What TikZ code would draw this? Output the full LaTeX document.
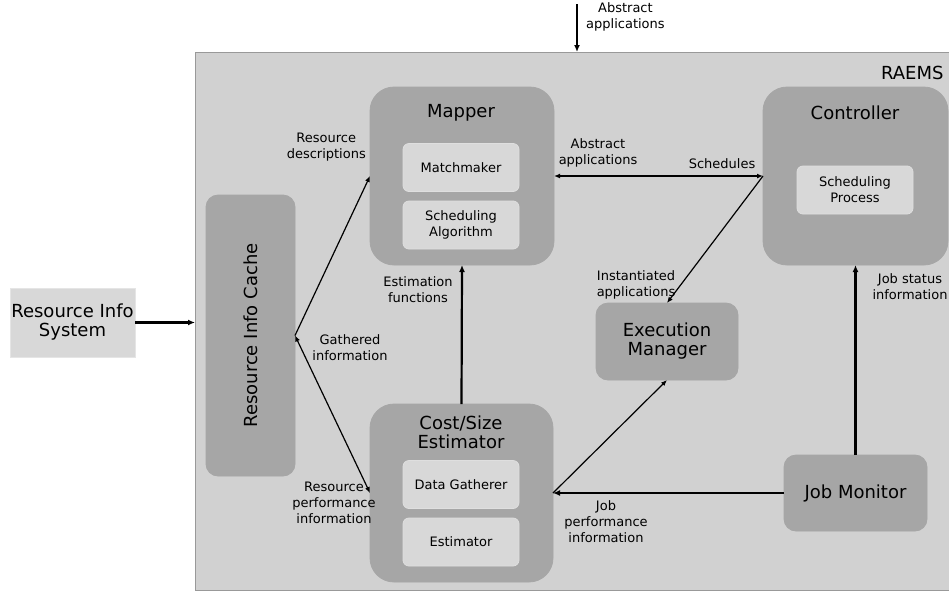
\documentclass[tikz,border=0pt]{standalone}
\usepackage{fontspec}
\setmainfont{DejaVu Sans}
\usetikzlibrary{arrows.meta}

\definecolor{framegray}{RGB}{209,209,209}
\definecolor{unitgray}{RGB}{166,166,166}
\definecolor{partgray}{RGB}{216,216,216}

\tikzset{
  bigtext/.style={font=\fontsize{18}{21}\selectfont},
  smalltext/.style={font=\fontsize{13}{16}\selectfont},
  frame/.style={draw=gray!80, fill=framegray, inner sep=0pt, outer sep=0pt},
  unit/.style={draw=gray!70, fill=unitgray, line width=0.8pt, inner sep=0pt, outer sep=0pt},
  part/.style={draw=white!75!gray, fill=partgray, line width=0.8pt, rounded corners=6pt,
    minimum width=116pt, minimum height=48pt, align=center, smalltext},
  lbl/.style={align=center, smalltext, inner sep=0pt},
  flow/.style={-{Latex[length=6pt,width=5pt]}, line width=1.2pt},
  twoway/.style={{Latex[length=6pt,width=5pt]}-{Latex[length=6pt,width=5pt]}, line width=1.2pt},
  mainflow/.style={-{Latex[length=7pt,width=6pt]}, line width=2.2pt}
}

\begin{document}
\begin{tikzpicture}[x=1pt, y=-1pt]
  \useasboundingbox (0,0) rectangle (949,590);

  % system frame
  \node[frame, minimum width=754pt, minimum height=538pt] (raems) at (572,321) {};
  \node[bigtext, anchor=east] at (947,73) {RAEMS};

  % outside source
  \node[draw=white!80!gray, fill=partgray, minimum width=125pt, minimum height=69pt,
    align=center, inner sep=0pt, bigtext] (ris) at (72.5,322.5) {Resource Info\\[-2pt]System};

  % cache
  \node[unit, rounded corners=12pt, minimum width=89pt, minimum height=281pt] (cache) at (250.5,335.5) {};
  \node[bigtext, rotate=90] at (cache.center) {Resource Info Cache};

  % mapper
  \node[unit, rounded corners=24pt, minimum width=184pt, minimum height=178pt] (mapper) at (462,176) {};
  \node[bigtext] at (461,113) {Mapper};
  \node[part] (match) at (461,167.5) {Matchmaker};
  \node[part] (algo) at (461,225) {Scheduling\\Algorithm};

  % controller
  \node[unit, rounded corners=24pt, minimum width=185pt, minimum height=178pt] (ctrl) at (855.5,176) {};
  \node[bigtext] at (855,113) {Controller};
  \node[part] (proc) at (855,190) {Scheduling\\Process};

  % estimator
  \node[unit, rounded corners=24pt, minimum width=183pt, minimum height=178pt] (est) at (461.5,493) {};
  \node[bigtext, align=center] at (461,432) {Cost/Size\\[-2pt]Estimator};
  \node[part] (gather) at (461,484.5) {Data Gatherer};
  \node[part] (estim) at (461,542) {Estimator};

  % execution manager and job monitor
  \node[unit, rounded corners=12pt, minimum width=142pt, minimum height=77pt,
    align=center, bigtext] (exec) at (667,341.5) {Execution\\[-2pt]Manager};
  \node[unit, rounded corners=12pt, minimum width=143pt, minimum height=76pt,
    bigtext] (jm) at (855.5,493) {Job Monitor};

  % connectors
  \coordinate (src) at (577,4);
  \draw[mainflow] (src) -- (src |- raems.north);
  \draw[mainflow] (ris.east) -- (raems.west |- ris.east);
  \draw[flow] (cache.east) -- (mapper.west);
  \draw[twoway] (cache.east) -- (est.west);
  \draw[mainflow] (est.north) -- (mapper.south);
  \draw[twoway] (ctrl.west) -- (mapper.east);
  \draw[flow] (ctrl.west) -- (exec.north);
  \draw[flow] (est.east) -- (exec.south);
  \draw[mainflow] (jm.west) -- (jm.west -| est.east);
  \draw[mainflow] (jm.north) -- (ctrl.south);

  % labels
  \node[lbl, anchor=west] at (586,17) {Abstract\\applications};
  \node[lbl, anchor=east] at (366,147) {Resource\\descriptions};
  \node[lbl] at (350,348) {Gathered\\information};
  \node[lbl] at (334,503) {Resource\\performance\\information};
  \node[lbl] at (418,290) {Estimation\\functions};
  \node[lbl] at (598,153) {Abstract\\applications};
  \node[lbl] at (722,164) {Schedules};
  \node[lbl] at (636,285) {Instantiated\\applications};
  \node[lbl] at (910,287) {Job status\\information};
  \node[lbl] at (606,522) {Job\\performance\\information};
\end{tikzpicture}
\end{document}
